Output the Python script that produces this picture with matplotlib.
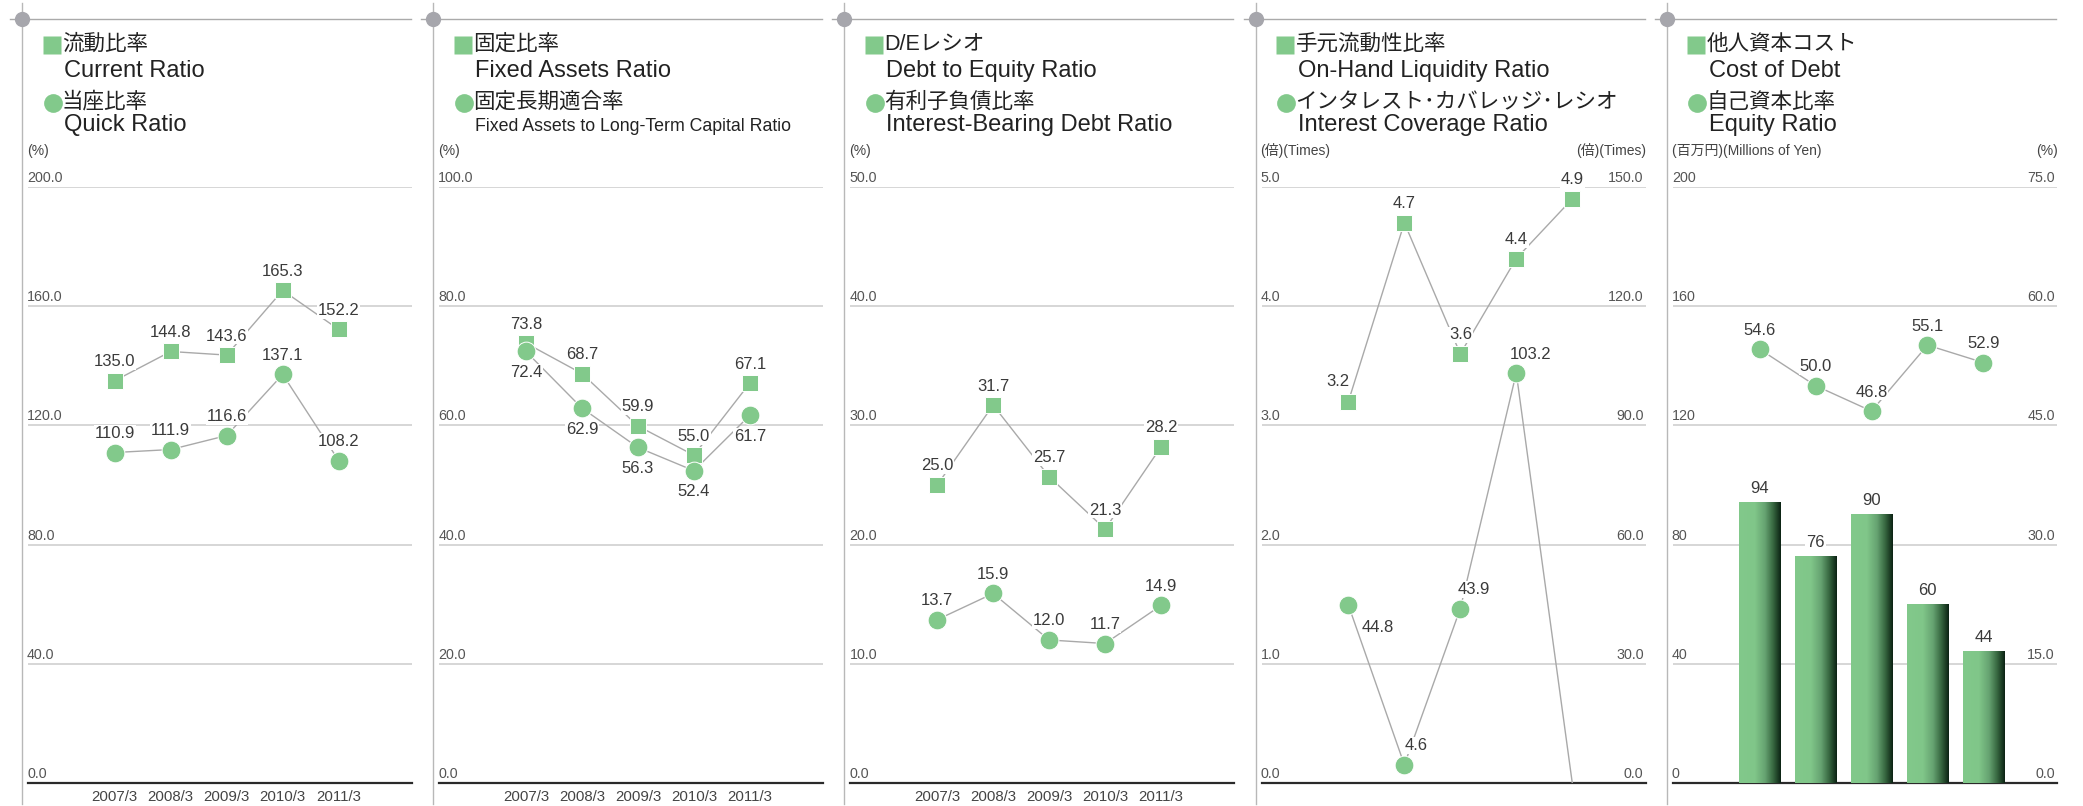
import numpy as np
import matplotlib
matplotlib.use("Agg")
import matplotlib.pyplot as plt
from matplotlib.lines import Line2D
from matplotlib.colors import LinearSegmentedColormap

plt.rcParams['font.family'] = ['Liberation Sans', 'Noto Sans CJK JP', 'DejaVu Sans']

# ---- data ----
years = ["2007/3", "2008/3", "2009/3", "2010/3", "2011/3"]

current_ratio = [135.0, 144.8, 143.6, 165.3, 152.2]
quick_ratio = [110.9, 111.9, 116.6, 137.1, 108.2]

fixed_assets_ratio = [73.8, 68.7, 59.9, 55.0, 67.1]
fixed_long_term_ratio = [72.4, 62.9, 56.3, 52.4, 61.7]

de_ratio = [25.0, 31.7, 25.7, 21.3, 28.2]
interest_debt_ratio = [13.7, 15.9, 12.0, 11.7, 14.9]

liquidity_ratio = [3.2, 4.7, 3.6, 4.4, 4.9]
coverage_ratio = [44.8, 4.6, 43.9, 103.2, 0.0]   # 2011/3 drawn to the axis, no marker

cost_of_debt = [94, 76, 90, 60, 44]
equity_ratio = [54.6, 50.0, 46.8, 55.1, 52.9]

# ---- style ----
GREEN = '#82c98b'
LINE = '#a9a9a9'
GRID = '#cfcfcf'
W, H = 2083, 806
ABOVE = (0, 19)
BELOW = (0, -21)
SQ, CI = 11.5, 13.5

fig = plt.figure(figsize=(W / 100, H / 100), dpi=100)


def fx(px):
    return px / W


def fy(py):
    return 1 - py / H


def make_panel(k):
    v = 22 + 411.2 * k
    ax = fig.add_axes([fx(v + 6), fy(783), 384 / W, 596 / H])
    fig.add_artist(Line2D([fx(v), fx(v)], [fy(3), fy(804)], color='#b8b8b8', lw=1.0))
    fig.add_artist(Line2D([fx(v - 12), fx(v + 389)], [fy(19), fy(19)], color='#aaaaaa', lw=1.0))
    fig.add_artist(Line2D([fx(v)], [fy(19)], marker='o', ms=11, color='#a6a6ac', mec='none'))
    return v, ax


def header(v, jp1, en1, jp2, en2, en2_font=None):
    fig.add_artist(Line2D([fx(v + 29.5)], [fy(44.5)], marker='s', ms=12.3, color=GREEN, mec='none'))
    fig.add_artist(Line2D([fx(v + 30.5)], [fy(102.5)], marker='o', ms=13.5, color=GREEN, mec='none'))
    fig.text(fx(v + 40), fy(50), jp1, fontsize=15.5, va='baseline', color='#222')
    fig.text(fx(v + 42), fy(77), en1, fontsize=17, va='baseline', color='#222')
    fig.text(fx(v + 40), fy(108), jp2, fontsize=15.5, va='baseline', color='#222')
    kw = dict(fontsize=17)
    if en2_font:
        kw = en2_font
    fig.text(fx(v + 42), fy(131), en2, va='baseline', color='#222', **kw)


def base_axis(ax, ymax, step, fmt, side='left'):
    ax.set_xlim(-1.55, 5.31)
    ax.set_ylim(0, ymax)
    ticks = np.arange(0, ymax + step / 2, step)
    for s in ['top', 'left', 'right']:
        ax.spines[s].set_visible(False)
    ax.spines['bottom'].set_color('#2a2a2a')
    ax.spines['bottom'].set_linewidth(1.6)
    ax.set_yticks([])
    if side == 'left':
        for t in ticks[1:]:
            ax.axhline(t, color=GRID, lw=1.2, zorder=0)
        ax.set_xticks(range(len(years)), years)
        ax.tick_params(axis='x', length=0, pad=5, labelsize=10.8, labelcolor='#444')
        xa, ha, off = 0, 'left', (-1, 2)
    else:
        ax.set_xticks([])
        xa, ha, off = 1, 'right', (-2, 2)
    for t in ticks:
        ax.annotate(fmt.format(t), (xa, t), xycoords=ax.get_yaxis_transform(),
                    xytext=off, textcoords='offset pixels', ha=ha, va='bottom',
                    fontsize=10.3, color='#555')


def series(ax, vals, marker, offsets, ms, show=None):
    x = np.arange(len(vals))
    v = np.array(vals, dtype=float)
    ax.plot(x, v, color=LINE, lw=1.0, zorder=2)
    keep = np.ones(len(v), bool) if show is None else np.array(show)
    ax.plot(x[keep], v[keep], ls='none', marker=marker, ms=ms, mfc=GREEN,
            mec='white', mew=0.7, zorder=5)
    for i in range(len(v)):
        if not keep[i]:
            continue
        ax.annotate(f"{v[i]:.1f}", (x[i], v[i]), xytext=offsets[i], textcoords='offset pixels',
                    ha='center', va='center', fontsize=12, color='#3a3a3a', zorder=4,
                    bbox=dict(boxstyle='square,pad=0.05', fc='white', ec='none'))


def unit(v, text, right=False):
    if right:
        fig.text(fx(v + 391), fy(155), text, fontsize=10, ha='right', va='baseline', color='#444')
    else:
        fig.text(fx(v + 5), fy(155), text, fontsize=10, va='baseline', color='#444')


# ---- panel 1 ----
v, ax = make_panel(0)
header(v, '流動比率', 'Current Ratio', '当座比率', 'Quick Ratio')
unit(v, '(%)')
base_axis(ax, 200, 40, '{:.1f}')
series(ax, current_ratio, 's', [ABOVE] * 5, SQ)
series(ax, quick_ratio, 'o', [ABOVE] * 5, CI)

# ---- panel 2 ----
v, ax = make_panel(1)
header(v, '固定比率', 'Fixed Assets Ratio', '固定長期適合率', 'Fixed Assets to Long-Term Capital Ratio',
       en2_font=dict(fontsize=12.8))
unit(v, '(%)')
base_axis(ax, 100, 20, '{:.1f}')
series(ax, fixed_assets_ratio, 's', [ABOVE] * 5, SQ)
series(ax, fixed_long_term_ratio, 'o', [BELOW] * 5, CI)

# ---- panel 3 ----
v, ax = make_panel(2)
header(v, 'D/Eレシオ', 'Debt to Equity Ratio', '有利子負債比率', 'Interest-Bearing Debt Ratio')
unit(v, '(%)')
base_axis(ax, 50, 10, '{:.1f}')
series(ax, de_ratio, 's', [ABOVE] * 5, SQ)
series(ax, interest_debt_ratio, 'o', [ABOVE] * 5, CI)

# ---- panel 4 ----
v, ax = make_panel(3)
header(v, '手元流動性比率', 'On-Hand Liquidity Ratio', 'インタレスト･カバレッジ･レシオ',
       'Interest Coverage Ratio')
unit(v, '(倍)(Times)')
unit(v, '(倍)(Times)', right=True)
base_axis(ax, 5, 1, '{:.1f}')
ax2 = ax.twinx()
base_axis(ax2, 150, 30, '{:.1f}', side='right')
ax2.spines['bottom'].set_visible(False)
series(ax, liquidity_ratio, 's', [(-10, 20), ABOVE, ABOVE, ABOVE, ABOVE], SQ)
series(ax2, coverage_ratio, 'o', [(29, -23), (12, 19), (13, 19), (14, 18), ABOVE], CI,
       show=[c > 0 for c in coverage_ratio])

# ---- panel 5 ----
v, ax = make_panel(4)
header(v, '他人資本コスト', 'Cost of Debt', '自己資本比率', 'Equity Ratio')
unit(v, '(百万円)(Millions of Yen)')
unit(v, '(%)', right=True)
cmap = LinearSegmentedColormap.from_list(
    'bar', [(0, '#82c98b'), (0.38, '#80c689'), (0.62, '#66a371'), (0.82, '#36663f'), (1.0, '#0b2213')])
grad = np.linspace(0, 1, 256).reshape(1, -1)
bars = ax.bar(range(len(years)), cost_of_debt, width=0.74, color='none', zorder=3)
for b, val in zip(bars, cost_of_debt):
    x0, w, h = b.get_x(), b.get_width(), b.get_height()
    ax.imshow(grad, cmap=cmap, extent=(x0, x0 + w, 0, h), aspect='auto', zorder=3)
    ax.annotate(str(val), (x0 + w / 2, h), xytext=(0, 14), textcoords='offset pixels',
                ha='center', va='center', fontsize=12, color='#3a3a3a',
                bbox=dict(boxstyle='square,pad=0.05', fc='white', ec='none'))
base_axis(ax, 200, 40, '{:.0f}')
ax2 = ax.twinx()
base_axis(ax2, 75, 15, '{:.1f}', side='right')
ax2.spines['bottom'].set_visible(False)
series(ax2, equity_ratio, 'o', [ABOVE] * 5, CI)

fig.savefig('out.png', dpi=100)
